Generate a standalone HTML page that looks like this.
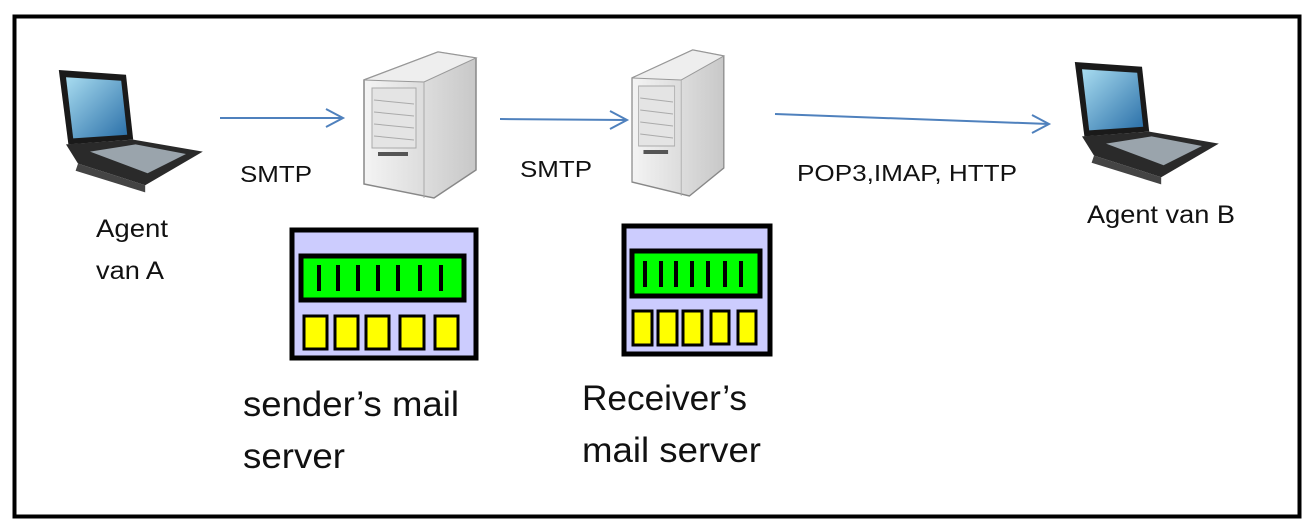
<!DOCTYPE html>
<html><head><meta charset="utf-8"><style>
html,body{margin:0;padding:0;background:#fff;}
svg{display:block;}
text{font-family:"Liberation Sans",sans-serif;fill:#111;}
</style></head><body>
<svg width="1314" height="529" viewBox="0 0 1314 529" xmlns="http://www.w3.org/2000/svg">
<defs>
<linearGradient id="scr" x1="0" y1="0" x2="1" y2="1"><stop offset="0" stop-color="#a8dcf0"/><stop offset="1" stop-color="#2a6fa8"/></linearGradient>
<linearGradient id="srv" x1="0" y1="0" x2="1" y2="0"><stop offset="0" stop-color="#f4f4f4"/><stop offset="1" stop-color="#c8c8c8"/></linearGradient>
<g id="laptop">
<polygon points="14,10 70,14 76,68 22,72" fill="#1a1a1a"/>
<polygon points="20,16 66,19 71,64 26,67" fill="url(#scr)"/>
<polygon points="20,72 76,68 134,78 86,106 30,88" fill="#2a2a2a"/>
<polygon points="40,78 78,72 120,80 88,96" fill="#9aa4ac"/>
<polygon points="30,88 86,106 86,112 28,94" fill="#444"/>
</g>
<g id="server">
<polygon points="0,28 74,0 112,6 112,118 70,146 0,132" fill="url(#srv)" stroke="#888" stroke-width="1.5"/>
<polygon points="0,28 74,0 112,6 60,30" fill="#eee" stroke="#999" stroke-width="1"/>
<line x1="60" y1="30" x2="60" y2="146" stroke="#aaa"/>
<rect x="8" y="36" width="44" height="60" fill="#e4e4e4" stroke="#aaa"/>
<g stroke="#aaa"><line x1="10" y1="48" x2="50" y2="52"/><line x1="10" y1="60" x2="50" y2="64"/><line x1="10" y1="72" x2="50" y2="76"/><line x1="10" y1="84" x2="50" y2="88"/></g>
<rect x="14" y="100" width="30" height="4" fill="#555"/>
</g>
</defs>
<rect x="14.5" y="16.5" width="1285" height="500" fill="#fff" stroke="#000" stroke-width="4"/>

<use href="#laptop" transform="translate(42,58) scale(1.2)"/>
<use href="#laptop" transform="translate(1058,50) scale(1.2)"/>
<use href="#server" x="364" y="52"/>
<use href="#server" transform="translate(632,50) scale(0.82,1)"/>

<g stroke="#4f81bd" stroke-width="2" fill="none">
<line x1="220" y1="118" x2="343" y2="118"/><polyline points="326,109 343,118 326,127"/>
<line x1="500" y1="119" x2="627" y2="120"/><polyline points="610,111 627,120 610,129"/>
<line x1="775" y1="114" x2="1049" y2="124"/><polyline points="1032,115 1049,124 1032,133"/>
</g>

<text x="240" y="182" font-size="23" textLength="72" lengthAdjust="spacingAndGlyphs">SMTP</text>
<text x="520" y="177" font-size="23" textLength="72" lengthAdjust="spacingAndGlyphs">SMTP</text>
<text x="797" y="181" font-size="23" textLength="220" lengthAdjust="spacingAndGlyphs">POP3,IMAP, HTTP</text>
<text x="96" y="237" font-size="25" textLength="72" lengthAdjust="spacingAndGlyphs">Agent</text>
<text x="96" y="279" font-size="25" textLength="68" lengthAdjust="spacingAndGlyphs">van A</text>
<text x="1087" y="223" font-size="25" textLength="148" lengthAdjust="spacingAndGlyphs">Agent van B</text>
<text x="243" y="416" font-size="35" textLength="216" lengthAdjust="spacingAndGlyphs">sender’s mail</text>
<text x="243" y="468" font-size="35" textLength="102" lengthAdjust="spacingAndGlyphs">server</text>
<text x="582" y="410" font-size="35" textLength="165" lengthAdjust="spacingAndGlyphs">Receiver’s</text>
<text x="582" y="462" font-size="35" textLength="179" lengthAdjust="spacingAndGlyphs">mail server</text>

<g stroke="#000">
<rect x="292" y="230" width="184" height="128" fill="#ccccfe" stroke-width="5"/>
<rect x="301" y="256" width="163" height="44" fill="#00ff00" stroke-width="5"/>
<g stroke-width="4"><line x1="319" y1="265" x2="319" y2="291"/><line x1="338" y1="265" x2="338" y2="291"/><line x1="358" y1="265" x2="358" y2="291"/><line x1="378" y1="265" x2="378" y2="291"/><line x1="398" y1="265" x2="398" y2="291"/><line x1="420" y1="265" x2="420" y2="291"/><line x1="441" y1="265" x2="441" y2="291"/></g>
<g fill="#ffff00" stroke-width="3"><rect x="304" y="316" width="23" height="33"/><rect x="335" y="316" width="23" height="33"/><rect x="366" y="316" width="23" height="33"/><rect x="400" y="316" width="24" height="33"/><rect x="435" y="316" width="23" height="33"/></g>

<rect x="624" y="226" width="146" height="128" fill="#ccccfe" stroke-width="5"/>
<rect x="632" y="251" width="128" height="45" fill="#00ff00" stroke-width="5"/>
<g stroke-width="4"><line x1="645" y1="261" x2="645" y2="287"/><line x1="661" y1="261" x2="661" y2="287"/><line x1="676" y1="261" x2="676" y2="287"/><line x1="692" y1="261" x2="692" y2="287"/><line x1="708" y1="261" x2="708" y2="287"/><line x1="725" y1="261" x2="725" y2="287"/><line x1="741" y1="261" x2="741" y2="287"/></g>
<g fill="#ffff00" stroke-width="3"><rect x="633" y="311" width="19" height="34"/><rect x="658" y="311" width="19" height="34"/><rect x="683" y="311" width="19" height="34"/><rect x="711" y="311" width="18" height="33"/><rect x="738" y="311" width="18" height="33"/></g>
</g>
</svg>
</body></html>
